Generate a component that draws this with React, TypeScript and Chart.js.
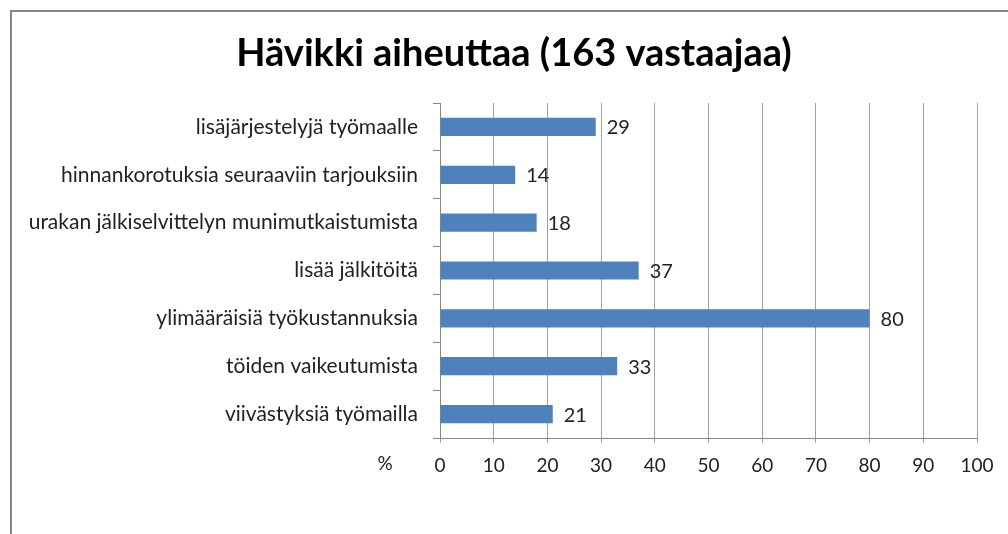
import React, { useEffect, useRef } from "react";
import { Chart, registerables } from "chart.js";

Chart.register(...registerables);

const categories = [
  "lisäjärjestelyjä työmaalle",
  "hinnankorotuksia seuraaviin tarjouksiin",
  "urakan jälkiselvittelyn munimutkaistumista",
  "lisää jälkitöitä",
  "ylimääräisiä työkustannuksia",
  "töiden vaikeutumista",
  "viivästyksiä työmailla",
];
const values = [29, 14, 18, 37, 80, 33, 21];
const titleText = "Hävikki aiheuttaa (163 vastaajaa)";
const axisUnit = "%";

const FONT = "Lato";

export default function App() {
  const ref = useRef<HTMLCanvasElement | null>(null);
  useEffect(() => {
    const canvas = ref.current!;
    const deco = {
      id: "deco",
      beforeDraw(chart: any) {
        const ctx = chart.ctx;
        ctx.save();
        ctx.fillStyle = "#fff";
        ctx.fillRect(0, 0, chart.width, chart.height);
        ctx.strokeStyle = "#868686";
        ctx.lineWidth = 2;
        ctx.beginPath();
        ctx.moveTo(11, chart.height);
        ctx.lineTo(11, 11);
        ctx.lineTo(chart.width, 11);
        ctx.stroke();
        ctx.restore();
      },
      afterDraw(chart: any) {
        const ctx = chart.ctx;
        ctx.save();
        ctx.fillStyle = "#000";
        ctx.font = `bold 38px ${FONT}`;
        ctx.textAlign = "center";
        ctx.textBaseline = "middle";
        ctx.fillText(titleText, 514, 54);
        const meta = chart.getDatasetMeta(0);
        ctx.font = `20px ${FONT}`;
        ctx.fillStyle = "#222";
        ctx.textAlign = "left";
        meta.data.forEach((el: any, i: number) => {
          ctx.fillText(String(values[i]), el.x + 11, el.y + 1);
        });
        ctx.textAlign = "center";
        ctx.font = `19px ${FONT}`;
        ctx.fillText(axisUnit, chart.chartArea.left - 55, chart.chartArea.bottom + 26);
        ctx.restore();
      },
    };
    const chart = new Chart(canvas, {
      type: "bar",
      data: {
        labels: categories,
        datasets: [
          {
            data: values,
            backgroundColor: "#4F81BD",
            borderWidth: 0,
            barPercentage: 0.38,
            categoryPercentage: 1,
          },
        ],
      },
      options: {
        indexAxis: "y",
        animation: false,
        responsive: false,
        devicePixelRatio: 1,
        layout: { padding: { top: 103, right: 31, bottom: 56, left: 0 } },
        plugins: { legend: { display: false }, title: { display: false }, tooltip: { enabled: false } },
        scales: {
          y: {
            afterFit(scale: any) { scale.width = 440; },
            grid: { drawOnChartArea: false, drawTicks: true, tickLength: 7, color: "#868686" },
            border: { color: "#868686", width: 1 },
            ticks: { font: { family: FONT, size: 21 }, color: "#222", padding: 15 },
          },
          x: {
            min: 0,
            max: 100,
            afterFit(scale: any) { scale.height = 40; },
            grid: { color: "#a0a0a0", tickLength: 5 },
            border: { color: "#868686", width: 1 },
            ticks: { stepSize: 10, font: { family: FONT, size: 19 }, color: "#222", padding: 11, maxRotation: 0 },
          },
        },
      },
      plugins: [deco],
    });
    return () => chart.destroy();
  }, []);
  return (
    <div style={{ position: "absolute", left: 0, top: 0, width: 1008, height: 534 }}>
      <canvas ref={ref} width={1008} height={534} style={{ width: 1008, height: 534, display: "block" }} />
    </div>
  );
}
